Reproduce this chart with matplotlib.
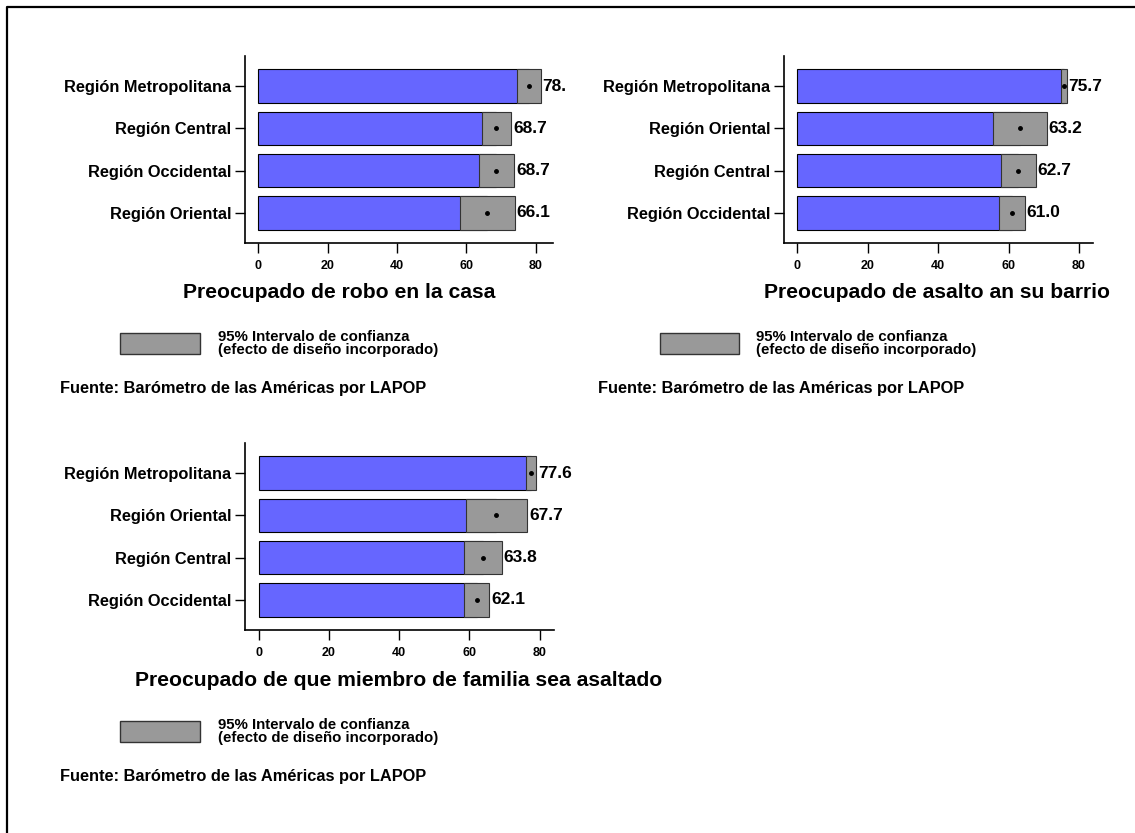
import matplotlib
matplotlib.use('Agg')
import matplotlib.pyplot as plt
from matplotlib.patches import Rectangle
from matplotlib.lines import Line2D
from matplotlib.transforms import Bbox

plt.rcParams['font.family'] = ['Liberation Sans', 'DejaVu Sans']
plt.rcParams['font.weight'] = 'bold'

W, H = 1135, 833

# Preocupado de robo en la casa
regions_robo = ['Región Metropolitana', 'Región Central', 'Región Occidental', 'Región Oriental']
mean_robo = [78.0, 68.7, 68.7, 66.1]
low_robo = [74.6, 64.4, 63.6, 58.3]
high_robo = [81.4, 73.0, 73.8, 73.9]

# Preocupado de asalto an su barrio
regions_barrio = ['Región Metropolitana', 'Región Oriental', 'Región Central', 'Región Occidental']
mean_barrio = [75.7, 63.2, 62.7, 61.0]
low_barrio = [74.9, 55.6, 57.8, 57.3]
high_barrio = [76.5, 70.8, 67.7, 64.7]

# Preocupado de que miembro de familia sea asaltado
regions_familia = ['Región Metropolitana', 'Región Oriental', 'Región Central', 'Región Occidental']
mean_familia = [77.6, 67.7, 63.8, 62.1]
low_familia = [76.1, 58.9, 58.4, 58.5]
high_familia = [79.1, 76.5, 69.2, 65.7]

titles = ['Preocupado de robo en la casa',
          'Preocupado de asalto an su barrio',
          'Preocupado de que miembro de familia sea asaltado']
legend_label = '95% Intervalo de confianza\n(efecto de diseño incorporado)'
source = 'Fuente: Barómetro de las Américas por LAPOP'

BLUE = '#6666ff'
GREY = '#999999'


def px_box(l, t, r, b):
    return [l / W, 1 - b / H, (r - l) / W, (b - t) / H]


def fx(x):
    return x / W


def fy(y):
    return 1 - y / H


def draw_panel(fig, box, xlim, regions, means, lows, highs, clip_x=None):
    ax = fig.add_axes(px_box(*box))
    n = len(regions)
    ys = [n - 1 - i for i in range(n)]
    ax.barh(ys, means, height=0.8, color=BLUE, edgecolor='black', linewidth=0.8)
    widths = [h - l for l, h in zip(lows, highs)]
    ax.barh(ys, widths, left=lows, height=0.8, color=GREY, edgecolor='#333333', linewidth=0.8)
    ax.plot(means, ys, 'o', color='black', markersize=2.5)
    for y, h, m in zip(ys, highs, means):
        t = ax.text(h + 0.5, y, f'{m:.1f}', va='center', ha='left', fontsize=12.5,
                    fontweight='bold')
        if clip_x is not None:
            # the value label is cut off at the edge of the panel region
            t.set_clip_box(Bbox.from_extents(0, 0, clip_x, H))
            t.set_clip_on(True)
    ax.set_yticks(ys)
    ax.set_yticklabels(regions, fontsize=11.8)
    ax.set_xticks([0, 20, 40, 60, 80])
    ax.set_xlim(*xlim)
    ax.set_ylim(-0.72, n - 1 + 0.72)
    for s in ['top', 'right']:
        ax.spines[s].set_visible(False)
    for s in ['left', 'bottom']:
        ax.spines[s].set_linewidth(1.2)
    ax.tick_params(axis='y', length=7, width=1, pad=3)
    ax.tick_params(axis='x', length=7, width=1, pad=5, labelsize=9)
    return ax


def draw_legend(fig, patch_x, patch_top, text_x, src_x, title_xy, title):
    fig.text(fx(title_xy[0]), fy(title_xy[1]), title, ha='center', va='center',
             fontsize=15.2, fontweight='bold')
    fig.patches.append(Rectangle((fx(patch_x), fy(patch_top + 21.5)), 79.5 / W, 21.5 / H,
                                 transform=fig.transFigure, facecolor=GREY,
                                 edgecolor='#333333', linewidth=1))
    fig.text(fx(text_x), fy(patch_top + 10.5), legend_label, ha='left', va='center',
             fontsize=10.8, fontweight='bold', linespacing=0.88)
    fig.text(fx(src_x), fy(patch_top + 60), source, ha='left', va='baseline',
             fontsize=11.8, fontweight='bold')


fig = plt.figure(figsize=(W / 100, H / 100), dpi=100)

draw_panel(fig, (245, 56, 553, 243), (-3.8, 85.0), regions_robo, mean_robo, low_robo, high_robo,
           clip_x=566)
draw_panel(fig, (784, 56, 1093, 243), (-3.8, 84.0), regions_barrio, mean_barrio, low_barrio,
           high_barrio)
draw_panel(fig, (245, 443, 554, 630), (-3.9, 84.1), regions_familia, mean_familia, low_familia,
           high_familia)

draw_legend(fig, 120, 332.7, 217.5, 60.5, (339, 292), titles[0])
draw_legend(fig, 659.6, 332.7, 756, 597.5, (937.5, 292), titles[1])
draw_legend(fig, 120, 720.7, 217.5, 60.5, (399, 680), titles[2])

# frame on top and left of the figure
fig.add_artist(Line2D([fx(6.5), fx(6.5), 1.0], [0.0, fy(6.5), fy(6.5)],
                      transform=fig.transFigure, color='black', linewidth=1.6))

fig.savefig('out.png', dpi=100, facecolor='white')
